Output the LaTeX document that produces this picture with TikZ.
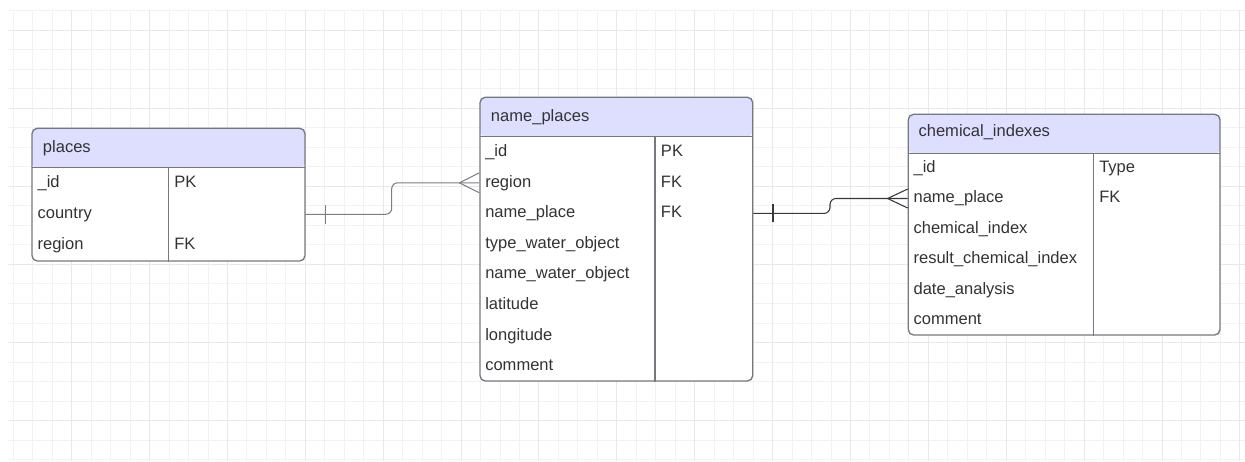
\documentclass[tikz,border=0pt]{standalone}
\usepackage{fontspec}
\setmainfont{Liberation Sans}
\usetikzlibrary{fit,calc}
\definecolor{hdrfill}{RGB}{222,223,255}
\definecolor{tblline}{RGB}{118,120,128}
\definecolor{txtgray}{RGB}{51,51,51}
\definecolor{gridmin}{RGB}{242,242,242}
\definecolor{gridmaj}{RGB}{232,232,232}
\definecolor{linkgray}{RGB}{125,126,132}
\definecolor{linkdark}{RGB}{55,55,60}

\begin{document}
\begin{tikzpicture}[x=0.75pt,y=-0.75pt,font=\fontsize{12.4}{14}\selectfont,
  tbl/.style={draw=tblline,line width=1pt,fill=white,rounded corners=4pt,inner sep=0pt,
    path picture={\fill[hdrfill] (path picture bounding box.north west) rectangle
      ($(path picture bounding box.north east)+(0,39.4)$);
      \draw[tblline,line width=1pt] ($(path picture bounding box.north west)+(0,39.4)$) --
      ($(path picture bounding box.north east)+(0,39.4)$);}},
  fld/.style={anchor=west,inner sep=0pt,text=txtgray,text height=8.9pt,text depth=2.5pt},
  divline/.style={draw=tblline,line width=1pt},
  link/.style={draw=#1,line width=0.8pt},
  link/.default=linkgray]
\useasboundingbox (0,0) rectangle (1245,461);

% background grid
\foreach \i in {0,...,63}
  \draw[gridmin,line width=0.75pt] ({13.3+19.47*\i},10) -- ({13.3+19.47*\i},461);
\foreach \j in {0,...,23}
  \draw[gridmin,line width=0.75pt] (8,{10.7+19.52*\j}) -- (1245,{10.7+19.52*\j});
\foreach \i in {3,7,...,63}
  \draw[gridmaj,line width=0.75pt] ({13.3+19.47*\i},10) -- ({13.3+19.47*\i},461);
\foreach \j in {1,5,...,21}
  \draw[gridmaj,line width=0.75pt] (8,{10.7+19.52*\j}) -- (1245,{10.7+19.52*\j});

% places
\node[tbl,fit={(32,128.3) (305,261)}] (pl) {};
\draw[divline] (168.3,167.7) -- (168.3,0 |- pl.south);
\node[fld] (pl-title) at (42.7,148) {places};
\foreach \nm/\txt/\k [count=\r from 0] in {id/\_id/PK,country/country/,region/region/FK} {
  \node[fld] (pl-\nm) at (37.3,{183.7+30.6*\r}) {\txt};
  \node[fld] (pl-\nm-key) at (174,{183.7+30.6*\r}) {\k};
}

% name_places
\node[tbl,fit={(480,97.3) (752.7,381)}] (np) {};
\draw[divline] (655,136.7) -- (655,0 |- np.south);
\node[fld] (np-title) at (490.7,117) {name\_places};
\foreach \nm/\txt/\k [count=\r from 0] in {id/\_id/PK,region/region/FK,nameplace/name\_place/FK,
    typewater/type\_water\_object/,namewater/name\_water\_object/,lat/latitude/,
    lon/longitude/,comment/comment/} {
  \node[fld] (np-\nm) at (485,{152.2+30.6*\r}) {\txt};
  \node[fld] (np-\nm-key) at (660.7,{152.2+30.6*\r}) {\k};
}

% chemical_indexes
\node[tbl,fit={(908.3,114.3) (1220,335)}] (ci) {};
\draw[divline] (1093.3,153.7) -- (1093.3,0 |- ci.south);
\node[fld] (ci-title) at (918.3,132.7) {chemical\_indexes};
\foreach \nm/\txt/\k [count=\r from 0] in {id/\_id/Type,nameplace/name\_place/FK,
    chemindex/chemical\_index/,result/result\_chemical\_index/,date/date\_analysis/,
    comment/comment/} {
  \node[fld] (ci-\nm) at (913.3,{168+30.5*\r}) {\txt};
  \node[fld] (ci-\nm-key) at (1099,{168+30.5*\r}) {\k};
}

% relations
\draw[link,rounded corners=4.5pt] (pl.east |- pl-country) -- (391.7,0 |- pl-country)
  -- (391.7,0 |- np-region) -- (np.west |- np-region);
\draw[link] (pl.east |- pl-country) ++(20,-9.5) -- ++(0,19);
\draw[link] (np.west |- np-region) ++(-20,0) -- ++(20,-10) ++(-20,10) -- ++(20,10);

\draw[link=linkdark,rounded corners=4.5pt] (np.east |- np-nameplace) -- (830,0 |- np-nameplace)
  -- (830,0 |- ci-nameplace) -- (ci.west |- ci-nameplace);
\draw[link=linkdark] (np.east |- np-nameplace) ++(19.6,-9) -- ++(0,18);
\draw[link=linkdark] (ci.west |- ci-nameplace) ++(-20,0) -- ++(20,-9.5) ++(-20,9.5) -- ++(20,9.5);
\end{tikzpicture}
\end{document}
